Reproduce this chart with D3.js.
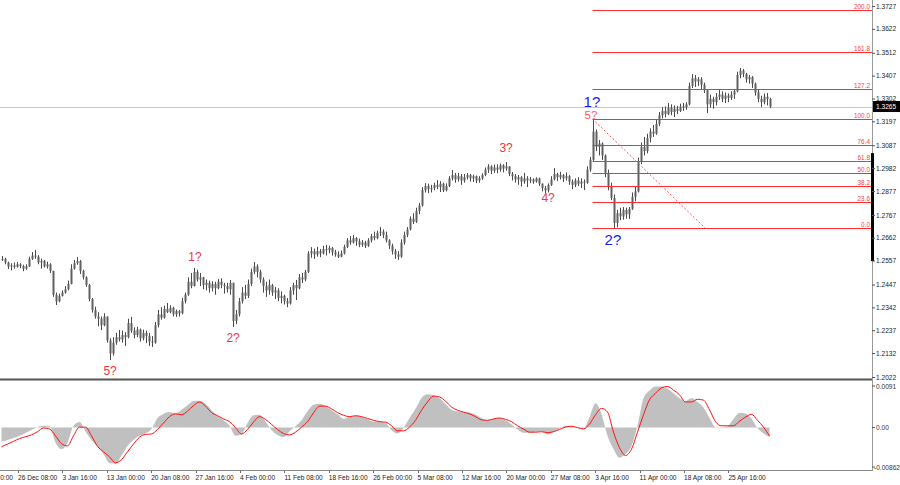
<!DOCTYPE html>
<html><head><meta charset="utf-8">
<script src="https://cdn.jsdelivr.net/npm/d3@7"></script>
<style>
html,body{margin:0;padding:0;background:#fff;overflow:hidden}
svg{display:block}
text{font-family:"Liberation Sans",Arial,sans-serif}
</style></head><body>
<svg id="c" width="900" height="485"></svg>
<script>
// ---------- DATA ----------
const closes=[
1.2565,1.2548,1.2530,1.2535,1.2528,1.2540,1.2532,1.2520,1.2530,1.2565,
1.2580,1.2575,1.2548,1.2555,1.2530,1.2540,1.2510,1.2400,1.2370,1.2395,
1.2410,1.2425,1.2450,1.2520,1.2545,1.2555,1.2510,1.2480,1.2445,1.2380,
1.2330,1.2300,1.2290,1.2260,1.2300,1.2190,1.2130,1.2180,1.2205,1.2195,
1.2215,1.2205,1.2270,1.2235,1.2215,1.2240,1.2200,1.2225,1.2210,1.2185,
1.2180,1.2260,1.2310,1.2295,1.2335,1.2320,1.2340,1.2310,1.2325,1.2315,
1.2370,1.2400,1.2460,1.2440,1.2505,1.2470,1.2480,1.2445,1.2455,1.2430,
1.2450,1.2430,1.2460,1.2445,1.2440,1.2425,1.2455,1.2280,1.2310,1.2370,
1.2410,1.2395,1.2450,1.2505,1.2530,1.2505,1.2470,1.2440,1.2420,1.2445,
1.2410,1.2420,1.2385,1.2395,1.2370,1.2360,1.2420,1.2445,1.2430,1.2480,
1.2470,1.2505,1.2590,1.2600,1.2585,1.2600,1.2590,1.2610,1.2605,1.2615,
1.2595,1.2585,1.2575,1.2590,1.2620,1.2650,1.2640,1.2660,1.2645,1.2630,
1.2640,1.2625,1.2650,1.2670,1.2660,1.2685,1.2690,1.2675,1.2650,1.2625,
1.2600,1.2585,1.2575,1.2640,1.2675,1.2700,1.2750,1.2735,1.2785,1.2810,
1.2880,1.2900,1.2885,1.2890,1.2905,1.2895,1.2910,1.2880,1.2900,1.2935,
1.2950,1.2930,1.2945,1.2925,1.2940,1.2950,1.2935,1.2945,1.2925,1.2935,
1.2950,1.2975,1.2990,1.2970,1.2985,1.2975,1.2995,1.2980,1.2990,1.2955,
1.2945,1.2930,1.2940,1.2920,1.2935,1.2925,1.2930,1.2920,1.2935,1.2910,
1.2890,1.2880,1.2905,1.2930,1.2955,1.2940,1.2950,1.2935,1.2945,1.2920,
1.2905,1.2925,1.2910,1.2920,1.2915,1.2975,1.3020,1.3150,1.3080,1.3095,
1.3040,1.2960,1.2900,1.2845,1.2730,1.2775,1.2760,1.2790,1.2770,1.2795,
1.2850,1.2875,1.3010,1.3080,1.3060,1.3120,1.3150,1.3140,1.3185,1.3225,
1.3245,1.3230,1.3260,1.3240,1.3255,1.3245,1.3265,1.3260,1.3275,1.3360,
1.3395,1.3380,1.3390,1.3365,1.3340,1.3275,1.3300,1.3285,1.3310,1.3320,
1.3300,1.3315,1.3305,1.3320,1.3335,1.3410,1.3430,1.3415,1.3390,1.3400,
1.3370,1.3330,1.3300,1.3285,1.3310,1.3300,1.3265];
const highs=[
1.2578,1.2570,1.2552,1.2545,1.2548,1.2550,1.2545,1.2538,1.2540,1.2575,
1.2596,1.2606,1.2582,1.2566,1.2560,1.2552,1.2545,1.2510,1.2410,1.2405,
1.2420,1.2440,1.2465,1.2540,1.2560,1.2573,1.2560,1.2515,1.2485,1.2450,
1.2385,1.2345,1.2320,1.2300,1.2315,1.2300,1.2200,1.2205,1.2225,1.2238,
1.2235,1.2228,1.2290,1.2298,1.2250,1.2252,1.2245,1.2240,1.2235,1.2225,
1.2210,1.2275,1.2330,1.2343,1.2350,1.2362,1.2352,1.2345,1.2332,1.2330,
1.2385,1.2410,1.2480,1.2500,1.2523,1.2515,1.2500,1.2482,1.2470,1.2465,
1.2462,1.2460,1.2472,1.2475,1.2455,1.2455,1.2468,1.2455,1.2330,1.2385,
1.2435,1.2445,1.2470,1.2520,1.2550,1.2540,1.2515,1.2480,1.2460,1.2470,
1.2450,1.2436,1.2430,1.2415,1.2400,1.2385,1.2435,1.2455,1.2468,1.2495,
1.2500,1.2514,1.2600,1.2619,1.2612,1.2620,1.2610,1.2625,1.2629,1.2625,
1.2620,1.2606,1.2600,1.2603,1.2630,1.2660,1.2670,1.2675,1.2665,1.2658,
1.2652,1.2648,1.2660,1.2680,1.2690,1.2695,1.2711,1.2700,1.2690,1.2655,
1.2635,1.2610,1.2600,1.2655,1.2690,1.2711,1.2760,1.2775,1.2800,1.2822,
1.2895,1.2913,1.2910,1.2905,1.2915,1.2927,1.2922,1.2915,1.2912,1.2945,
1.2973,1.2960,1.2960,1.2955,1.2955,1.2959,1.2955,1.2952,1.2948,1.2945,
1.2958,1.2985,1.3000,1.2995,1.2998,1.3000,1.3003,1.3000,1.3010,1.2990,
1.2964,1.2955,1.2950,1.2945,1.2960,1.2945,1.2941,1.2935,1.2940,1.2938,
1.2912,1.2900,1.2912,1.2945,1.2982,1.2960,1.2965,1.2955,1.2962,1.2950,
1.2930,1.2935,1.2940,1.2935,1.2930,1.2990,1.3033,1.3208,1.3160,1.3111,
1.3100,1.3045,1.2975,1.2915,1.2860,1.2790,1.2800,1.2803,1.2800,1.2803,
1.2870,1.2895,1.3030,1.3100,1.3125,1.3140,1.3165,1.3180,1.3203,1.3240,
1.3262,1.3265,1.3281,1.3275,1.3270,1.3268,1.3278,1.3281,1.3285,1.3375,
1.3414,1.3410,1.3401,1.3400,1.3375,1.3345,1.3320,1.3310,1.3327,1.3341,
1.3335,1.3330,1.3325,1.3335,1.3345,1.3425,1.3442,1.3438,1.3420,1.3410,
1.3405,1.3375,1.3341,1.3315,1.3325,1.3327,1.3305];
const lows=[
1.2555,1.2540,1.2518,1.2512,1.2520,1.2525,1.2522,1.2508,1.2515,1.2528,
1.2560,1.2565,1.2540,1.2520,1.2525,1.2520,1.2500,1.2390,1.2353,1.2365,
1.2392,1.2405,1.2420,1.2448,1.2515,1.2538,1.2495,1.2470,1.2436,1.2370,
1.2318,1.2290,1.2255,1.2238,1.2255,1.2180,1.2100,1.2120,1.2170,1.2185,
1.2180,1.2165,1.2200,1.2225,1.2200,1.2205,1.2185,1.2190,1.2178,1.2165,
1.2160,1.2175,1.2250,1.2285,1.2290,1.2316,1.2315,1.2300,1.2298,1.2300,
1.2310,1.2360,1.2395,1.2430,1.2438,1.2460,1.2440,1.2425,1.2420,1.2410,
1.2415,1.2400,1.2425,1.2430,1.2405,1.2410,1.2400,1.2252,1.2265,1.2300,
1.2360,1.2380,1.2385,1.2440,1.2495,1.2480,1.2455,1.2410,1.2390,1.2400,
1.2395,1.2380,1.2370,1.2360,1.2355,1.2343,1.2355,1.2400,1.2376,1.2425,
1.2454,1.2462,1.2500,1.2570,1.2565,1.2575,1.2573,1.2585,1.2580,1.2590,
1.2580,1.2575,1.2569,1.2572,1.2585,1.2615,1.2630,1.2635,1.2625,1.2619,
1.2620,1.2615,1.2620,1.2640,1.2650,1.2655,1.2670,1.2660,1.2640,1.2610,
1.2585,1.2565,1.2560,1.2570,1.2630,1.2665,1.2695,1.2725,1.2730,1.2770,
1.2805,1.2870,1.2867,1.2870,1.2880,1.2885,1.2872,1.2872,1.2875,1.2895,
1.2925,1.2915,1.2920,1.2905,1.2915,1.2930,1.2920,1.2918,1.2913,1.2915,
1.2928,1.2945,1.2960,1.2955,1.2960,1.2958,1.2965,1.2962,1.2970,1.2945,
1.2925,1.2915,1.2905,1.2898,1.2910,1.2895,1.2913,1.2910,1.2915,1.2900,
1.2875,1.2867,1.2870,1.2900,1.2925,1.2922,1.2930,1.2918,1.2925,1.2905,
1.2885,1.2895,1.2900,1.2890,1.2881,1.2910,1.2965,1.3015,1.3060,1.3040,
1.3019,1.2940,1.2880,1.2835,1.2707,1.2710,1.2743,1.2745,1.2750,1.2748,
1.2790,1.2830,1.2870,1.3000,1.3040,1.3050,1.3100,1.3125,1.3135,1.3175,
1.3210,1.3215,1.3225,1.3225,1.3217,1.3230,1.3240,1.3245,1.3250,1.3270,
1.3350,1.3355,1.3360,1.3345,1.3327,1.3235,1.3260,1.3255,1.3270,1.3295,
1.3285,1.3281,1.3285,1.3295,1.3300,1.3330,1.3395,1.3400,1.3375,1.3370,
1.3350,1.3315,1.3285,1.3263,1.3275,1.3270,1.3258];

// MACD: one sample every 2 bars
const macdHist=[
-0.0031,-0.0027,-0.0023,-0.0018,-0.0012,-0.0005,0.0001,0.0004,0.0003,-0.0033,
-0.0047,-0.0033,0.0004,0.0012,-0.0009,-0.0027,-0.0041,-0.0058,-0.0078,-0.0079,
-0.0061,-0.0040,-0.0027,-0.0018,-0.0013,-0.0003,0.0021,0.0030,0.0034,0.0031,
0.0039,0.0049,0.0058,0.0059,0.0052,0.0038,0.0025,0.0016,0.0004,-0.0018,
-0.0014,0.0010,0.0027,0.0028,0.0013,-0.0005,-0.0016,-0.0021,-0.0008,0.0003,
0.0016,0.0036,0.0050,0.0052,0.0047,0.0038,0.0029,0.0019,0.0023,0.0026,
0.0024,0.0018,0.0013,0.0013,0.0010,-0.0006,-0.0013,-0.0001,0.0021,0.0041,
0.0065,0.0073,0.0071,0.0064,0.0051,0.0039,0.0035,0.0034,0.0033,0.0028,
0.0021,0.0016,0.0019,0.0021,0.0016,0.0007,-0.0004,-0.0011,-0.0011,-0.0009,
-0.0008,-0.0015,-0.0010,-0.0002,0.0004,0.0002,-0.0001,-0.0002,0.0023,0.0053,
0.0030,-0.0018,-0.0047,-0.0066,-0.0058,-0.0040,0.0004,0.0064,0.0081,0.0090,
0.0090,0.0085,0.0075,0.0064,0.0058,0.0064,0.0056,0.0044,0.0021,0.0001,
0.0001,0.0003,0.0019,0.0032,0.0031,0.0020,-0.0001,-0.0013,-0.0021];
const macdSignal=[
-0.0042,-0.0036,-0.0030,-0.0024,-0.0020,-0.0016,-0.0009,-0.0001,-0.0003,-0.0018,
-0.0035,-0.0040,-0.0018,0.0001,0.0001,-0.0018,-0.0041,-0.0053,-0.0064,-0.0077,
-0.0070,-0.0053,-0.0036,-0.0021,-0.0015,-0.0014,-0.0004,0.0010,0.0024,0.0030,
0.0028,0.0036,0.0048,0.0056,0.0047,0.0033,0.0026,0.0019,0.0013,0.0000,
-0.0014,-0.0004,0.0012,0.0024,0.0018,0.0007,-0.0004,-0.0013,-0.0016,-0.0010,
0.0001,0.0013,0.0032,0.0047,0.0047,0.0041,0.0033,0.0027,0.0024,0.0026,
0.0024,0.0020,0.0016,0.0013,0.0012,0.0004,-0.0007,-0.0007,0.0001,0.0016,
0.0038,0.0056,0.0069,0.0067,0.0058,0.0045,0.0038,0.0034,0.0030,0.0024,
0.0017,0.0016,0.0019,0.0021,0.0018,0.0013,0.0004,-0.0003,-0.0010,-0.0010,
-0.0009,-0.0011,-0.0009,-0.0004,0.0001,0.0003,0.0000,-0.0003,0.0008,0.0028,
0.0042,0.0034,-0.0010,-0.0044,-0.0061,-0.0047,-0.0010,0.0028,0.0061,0.0075,
0.0087,0.0090,0.0082,0.0072,0.0056,0.0056,0.0062,0.0060,0.0039,0.0013,
0.0004,0.0004,0.0004,0.0014,0.0023,0.0029,0.0016,0.0001,-0.0018];
const macdStep=2;

const priceTicks=[1.3727,1.3622,1.3512,1.3407,1.3302,1.3197,1.3087,1.2982,1.2877,1.2767,1.2662,1.2557,1.2447,1.2342,1.2237,1.2132,1.2022];
const macdTicks=[0.0091,0,-0.00862];
const macdTickLabels=["0.0091","0.00","-0.00862"];
const timeLabels=["0:00","26 Dec 08:00","3 Jan 16:00","13 Jan 00:00","20 Jan 08:00","27 Jan 16:00","4 Feb 00:00","11 Feb 08:00","18 Feb 16:00","26 Feb 00:00","5 Mar 08:00","12 Mar 16:00","20 Mar 00:00","27 Mar 08:00","3 Apr 16:00","11 Apr 00:00","18 Apr 08:00","25 Apr 16:00"];
const timeTickIdx=[-0.45,5.5,20.3,35.1,49.9,64.7,79.5,94.3,109.1,123.9,138.7,153.5,168.3,183.1,197.9,212.7,227.5,242.3];
const lastPrice=1.3265;
const fibHigh=1.3208, fibLow=1.2707, fibStartIdx=197;
const fibLevels=[0,23.6,38.2,50,61.8,76.4,100,127.2,161.8,200];
const trendLine=[[197,1.3208],[234.5,1.2707]];
const waveText=["5?","1?","2?","3?","4?","5?","1?","2?"];
const waveIdx=[36.2,64.5,77.2,168.2,182.2,196.5,196.8,203.8];
const wavePrice=[1.2050,1.2573,1.2201,1.3074,1.2845,1.3226,1.3286,1.2652];
const waveKind=["minor","minor","minor","minor","minor","minorTop","major","major"];

// ---------- LAYOUT / STYLE ----------
const W=900,H=485,plotR=872,priceBottom=378,macdTop=381,macdBottom=470;
const waveStyle={minor:{c:"#f0353f",s:12},minorTop:{c:"#ff5a4a",s:11.5},major:{c:"#1b1bf2",s:15}};
const svg=d3.select("#c");
svg.append("rect").attr("width",W).attr("height",H).attr("fill","#fff");
const defs=svg.append("defs");
defs.append("clipPath").attr("id","cp").append("rect").attr("x",0).attr("y",0).attr("width",plotR).attr("height",priceBottom);
defs.append("clipPath").attr("id","cm").append("rect").attr("x",0).attr("y",macdTop).attr("width",plotR).attr("height",macdBottom-macdTop);

const x=d3.scaleLinear().domain([0,closes.length-1]).range([1.5,769.5]);
const y=d3.scaleLinear().domain([1.2022,1.3727]).range([377,6]);
const ym=d3.scaleLinear().domain([-0.00862,0.0091]).range([467,386]);
const crisp=v=>Math.round(v)+0.5;

const gp=svg.append("g").attr("clip-path","url(#cp)");
// current price line
gp.append("line").attr("x1",0).attr("x2",plotR).attr("y1",crisp(y(lastPrice))).attr("y2",crisp(y(lastPrice))).attr("stroke","#c8c8c8");

// candles
const bars=gp.append("g");
closes.forEach((c,i)=>{
  const o=i>0?closes[i-1]:c;
  const xc=Math.round(x(i))+0.5;
  bars.append("line").attr("x1",xc).attr("x2",xc).attr("y1",y(highs[i])).attr("y2",y(lows[i])).attr("stroke","#4a4a4a").attr("stroke-width",1);
  const t=y(Math.max(o,c)),b=y(Math.min(o,c));
  bars.append("rect").attr("x",xc-1).attr("y",t).attr("width",2).attr("height",Math.max(1,b-t)).attr("fill","#606060");
});

// fib lines
const fr=fibHigh-fibLow;
fibLevels.forEach(l=>{
  const py=crisp(y(fibLow+fr*l/100));
  gp.append("line").attr("x1",x(fibStartIdx)).attr("x2",plotR).attr("y1",py).attr("y2",py).attr("stroke","#ff2e2e").attr("stroke-width",1);
  svg.append("text").attr("x",870).attr("y",py-1.5).attr("text-anchor","end").attr("font-size","6.4px").attr("fill","#ff3c3c").text(l.toFixed(1));
});
// trend line
gp.append("line").attr("x1",x(trendLine[0][0])).attr("y1",y(trendLine[0][1])).attr("x2",x(trendLine[1][0])).attr("y2",y(trendLine[1][1]))
  .attr("stroke","#ff5050").attr("stroke-dasharray","2,2").attr("stroke-width",1);

// wave labels
waveText.forEach((t,k)=>{
  const st=waveStyle[waveKind[k]];
  svg.append("text").attr("x",x(waveIdx[k])).attr("y",y(wavePrice[k])).attr("text-anchor","middle").attr("dominant-baseline","central")
    .attr("font-size",st.s+"px").attr("fill",st.c).text(t);
});

// MACD
const gm=svg.append("g").attr("clip-path","url(#cm)");
gm.append("path").datum(macdHist).attr("fill","#c0c0c0")
  .attr("d",d3.area().x((d,j)=>x(j*macdStep)).y0(ym(0)).y1(d=>ym(d)).curve(d3.curveMonotoneX));
gm.append("path").datum(macdSignal).attr("fill","none").attr("stroke","#ff1010").attr("stroke-width",1)
  .attr("d",d3.line().x((d,j)=>x(j*macdStep)).y(d=>ym(d)).curve(d3.curveMonotoneX));

// frames
svg.append("line").attr("x1",0).attr("x2",plotR).attr("y1",379.5).attr("y2",379.5).attr("stroke","#555").attr("stroke-width",2);
svg.append("line").attr("x1",0).attr("x2",plotR).attr("y1",macdBottom+0.5).attr("y2",macdBottom+0.5).attr("stroke","#8a8a8a");
svg.append("line").attr("x1",plotR+0.5).attr("x2",plotR+0.5).attr("y1",0).attr("y2",macdBottom+1).attr("stroke","#9a9a9a");
svg.append("rect").attr("x",plotR-1).attr("y",y(1.3051)).attr("width",3).attr("height",y(1.2555)-y(1.3051)).attr("fill","#000");

// price axis
const ax=svg.append("g").attr("transform",`translate(${plotR},0)`)
  .call(d3.axisRight(y).tickValues(priceTicks).tickSize(3).tickPadding(1).tickFormat(d3.format(".4f")));
ax.select(".domain").remove();
ax.selectAll("line").attr("stroke","#555");
ax.selectAll("text").attr("font-size","6.6px").attr("fill","#222").attr("font-family",'"Liberation Sans",Arial,sans-serif');

// last price box
const lp=y(lastPrice);
svg.append("rect").attr("x",plotR+1).attr("y",lp-5.5).attr("width",W-plotR-1).attr("height",11).attr("fill","#000");
svg.append("text").attr("x",876).attr("y",lp).attr("dominant-baseline","central").attr("font-size","6.6px").attr("fill","#fff").text(lastPrice.toFixed(4));

// macd axis
macdTicks.forEach((v,k)=>{
  svg.append("line").attr("x1",plotR).attr("x2",plotR+3).attr("y1",ym(v)).attr("y2",ym(v)).attr("stroke","#555");
  svg.append("text").attr("x",v<0?874:876).attr("y",ym(v)).attr("dominant-baseline","central").attr("font-size","6.6px").attr("fill","#3a3226").text(macdTickLabels[k]);
});

// time axis
timeTickIdx.forEach((ti,k)=>{
  if(k>0) svg.append("line").attr("x1",crisp(x(ti))).attr("x2",crisp(x(ti))).attr("y1",macdBottom+1).attr("y2",macdBottom+3).attr("stroke","#666");
  svg.append("text").attr("x",x(ti)).attr("y",477).attr("dominant-baseline","central").attr("font-size","6.6px").attr("fill","#222").text(timeLabels[k]);
});
</script>
</body></html>
